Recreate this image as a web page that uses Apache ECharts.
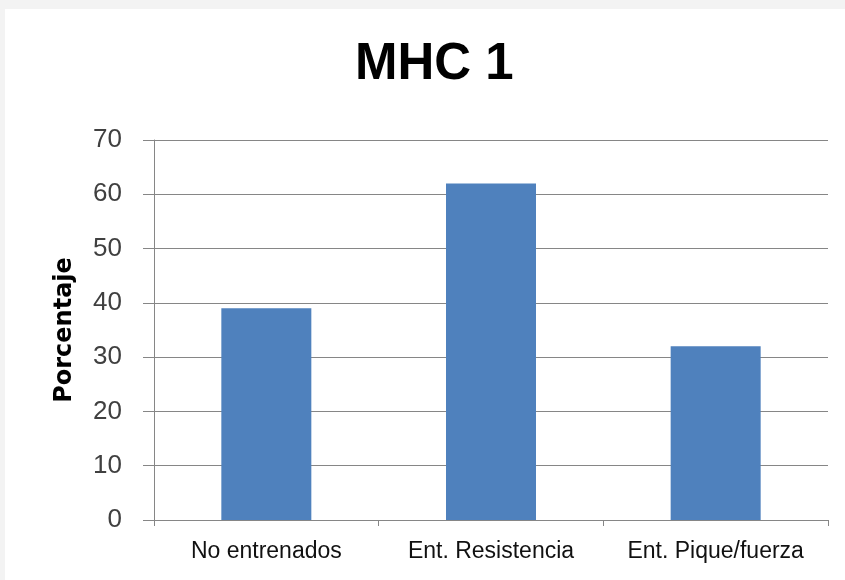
<!DOCTYPE html>
<html>
<head>
<meta charset="utf-8">
<script src="https://cdn.jsdelivr.net/npm/echarts@6/dist/echarts.min.js"></script>
<style>
  html, body { margin: 0; padding: 0; background: #f3f3f3; }
  #chart { width: 845px; height: 580px; }
</style>
</head>
<body>
<div id="chart"></div>
<script>
// Chart data
const titleText = 'MHC 1';
const categories = ['No entrenados', 'Ent. Resistencia', 'Ent. Pique/fuerza'];
const percentages = [39, 62, 32];
const yAxisName = 'Porcentaje';
const yMin = 0;
const yMax = 70;
const yStep = 10;

const chart = echarts.init(document.getElementById('chart'), null, { renderer: 'canvas' });

const gridColor = '#868686';

chart.setOption({
  backgroundColor: '#f3f3f3',
  animation: false,
  graphic: [
    {
      type: 'rect',
      z: -10,
      silent: true,
      shape: { x: 5, y: 9, width: 840, height: 571 },
      style: { fill: '#ffffff' }
    }
  ],
  title: {
    text: titleText,
    left: 355,
    top: 39,
    padding: 0,
    textStyle: {
      fontFamily: '"Liberation Sans", Arial, sans-serif',
      fontWeight: 'bold',
      fontSize: 51,
      color: '#000000'
    }
  },
  grid: {
    left: 154,
    right: 17,
    top: 140,
    bottom: 60,
    containLabel: false
  },
  xAxis: {
    type: 'category',
    data: categories,
    boundaryGap: true,
    axisLine: { show: true, lineStyle: { color: gridColor, width: 1 } },
    axisTick: { show: true, interval: 0, length: 6, inside: false, lineStyle: { color: gridColor } },
    axisLabel: {
      interval: 0,
      hideOverlap: false,
      margin: 20,
      fontFamily: '"Liberation Sans", Arial, sans-serif',
      fontSize: 23,
      color: '#111111'
    },
    splitLine: { show: false }
  },
  yAxis: {
    type: 'value',
    min: yMin,
    max: yMax,
    interval: yStep,
    name: yAxisName,
    nameLocation: 'middle',
    nameGap: 77,
    nameRotate: 90,
    nameTextStyle: {
      fontFamily: '"DejaVu Sans", sans-serif',
      fontWeight: 'bold',
      fontSize: 24,
      color: '#000000'
    },
    axisLine: { show: true, lineStyle: { color: gridColor, width: 1 } },
    axisTick: { show: true, length: 11, inside: false, lineStyle: { color: gridColor } },
    axisLabel: {
      margin: 32,
      fontFamily: '"Liberation Sans", Arial, sans-serif',
      fontSize: 26,
      color: '#404040'
    },
    splitLine: { show: true, lineStyle: { color: gridColor, width: 1 } }
  },
  series: [
    {
      type: 'bar',
      data: percentages,
      barWidth: 90,
      itemStyle: { color: '#4f81bd' }
    }
  ]
});
</script>
</body>
</html>
